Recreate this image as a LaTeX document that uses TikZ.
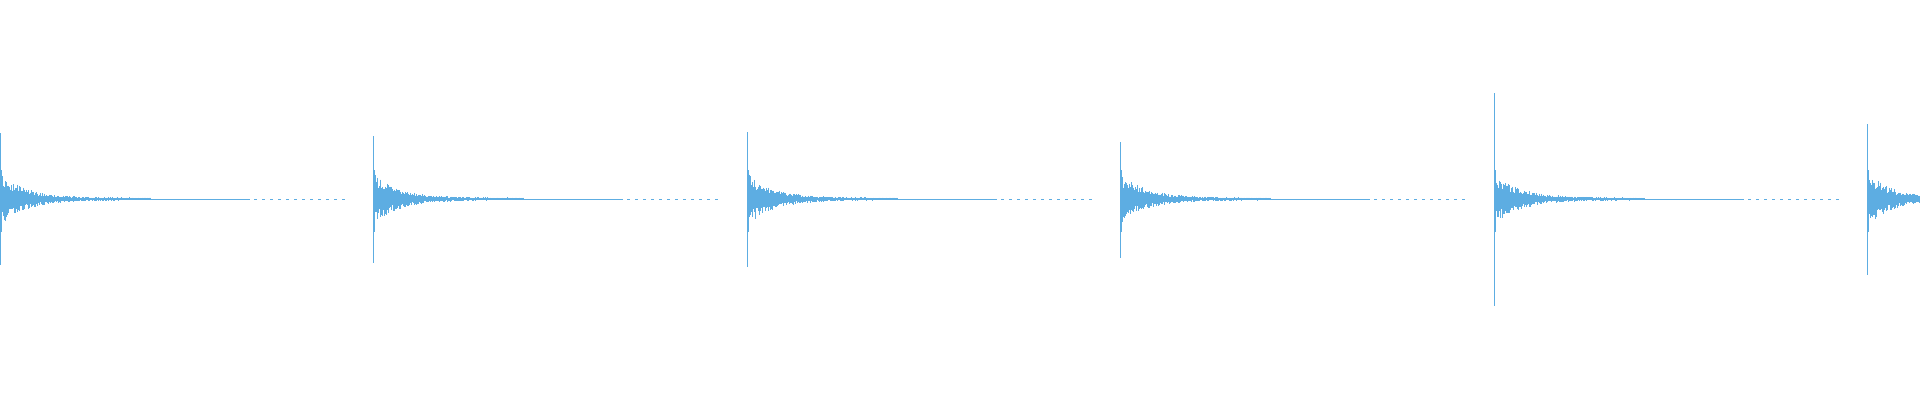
\documentclass[tikz,border=0pt]{standalone}
\begin{document}
\definecolor{wave}{RGB}{93,173,226}
\begin{tikzpicture}[x=1pt,y=-1pt,wv/.style={draw=wave,line width=1pt}]
\useasboundingbox (0,0) rectangle (1920,400);
\clip (0,0) rectangle (1920,400);
\pgfmathsetseed{7}
\foreach \s/\u/\d in {0/133/265, 373/136/263, 747/132/267, 1120/142/258, 1494/93/306, 1867/124/275}{
  \draw[wv] (\s+0.5,\u) -- (\s+0.5,\d);
  \draw[wv] (\s+1.5,170) -- (\s+1.5,232);
  \foreach \t in {2,...,150}{
    \pgfmathsetmacro\a{(25*exp(-\t/26)+1.4)*(0.45+0.55*rnd)}
    \pgfmathsetmacro\b{(25*exp(-\t/26)+1.4)*(0.45+0.55*rnd)}
    \draw[wv] (\s+\t+0.5,199-\a) -- (\s+\t+0.5,199+\b);
  }
  \draw[wave,line width=0.9pt] (\s+150,199.5) -- (\s+250,199.5);
  \foreach \t in {254,262,...,342}{
    \draw[wave,line width=0.9pt] (\s+\t,199.5) -- (\s+\t+3,199.5);
  }
}
\end{tikzpicture}
\end{document}
